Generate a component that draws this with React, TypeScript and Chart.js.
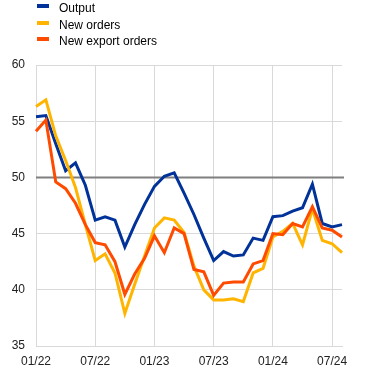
import React, { useEffect, useRef } from "react";
import { Chart, registerables } from "chart.js";

Chart.register(...registerables);

const months = [
  "01/22", "02/22", "03/22", "04/22", "05/22", "06/22", "07/22", "08/22", "09/22", "10/22", "11/22", "12/22",
  "01/23", "02/23", "03/23", "04/23", "05/23", "06/23", "07/23", "08/23", "09/23", "10/23", "11/23", "12/23",
  "01/24", "02/24", "03/24", "04/24", "05/24", "06/24", "07/24", "08/24",
];

const output = [
  55.4, 55.5, 53.0, 50.6, 51.3, 49.3, 46.2, 46.5, 46.2, 43.8, 45.8, 47.6,
  49.2, 50.1, 50.4, 48.6, 46.7, 44.6, 42.6, 43.4, 43.0, 43.1, 44.6, 44.4,
  46.5, 46.6, 47.0, 47.3, 49.4, 45.9, 45.6, 45.8,
];

const newOrders = [
  56.3, 56.9, 53.7, 51.5, 49.1, 45.8, 42.6, 43.2, 41.5, 37.9, 40.5, 43.0,
  45.5, 46.4, 46.2, 45.1, 42.1, 40.0, 39.1, 39.1, 39.2, 38.95, 41.5, 41.9,
  44.7, 45.2, 45.9, 44.0, 47.2, 44.4, 44.1, 43.3,
];

const newExportOrders = [
  54.1, 55.1, 49.6, 49.0, 47.7, 45.8, 44.2, 44.0, 42.5, 39.6, 41.4, 42.8,
  44.8, 43.3, 45.5, 45.0, 41.8, 41.6, 39.5, 40.6, 40.7, 40.7, 42.3, 42.6,
  45.0, 44.9, 45.9, 45.6, 47.4, 45.5, 45.3, 44.7,
];

const seriesNames = ["Output", "New orders", "New export orders"];
const seriesColors = ["#003299", "#FFB400", "#FF4B00"];
const referenceLevel = 50;

const FONT = "'Liberation Sans', Arial, sans-serif";

export default function App() {
  const canvasRef = useRef<HTMLCanvasElement | null>(null);

  useEffect(() => {
    document.body.style.margin = "0";
    const canvas = canvasRef.current;
    if (!canvas) return;

    const refLine = {
      id: "refLine",
      beforeDatasetsDraw(chart: any) {
        const { ctx, chartArea, scales } = chart;
        const y = scales.y.getPixelForValue(referenceLevel);
        ctx.save();
        ctx.strokeStyle = "#7f7f7f";
        ctx.lineWidth = 2;
        ctx.beginPath();
        ctx.moveTo(chartArea.left, y);
        ctx.lineTo(chartArea.right + 2, y);
        ctx.stroke();
        ctx.restore();
      },
    };

    const data = [output, newOrders, newExportOrders];
    const chart = new Chart(canvas, {
      type: "line",
      data: {
        labels: months,
        datasets: data.map((d, i) => ({
          label: seriesNames[i],
          data: d,
          borderColor: seriesColors[i],
          backgroundColor: seriesColors[i],
          borderWidth: 3,
          pointRadius: 0,
          tension: 0,
          fill: false,
          order: 2 - i,
        })),
      },
      options: {
        animation: false,
        responsive: false,
        maintainAspectRatio: false,
        layout: { padding: { top: 65, right: 30, left: 0, bottom: 0 } },
        plugins: {
          legend: { display: false },
          tooltip: { enabled: false },
        },
        scales: {
          x: {
            type: "category",
            offset: false,
            afterFit: (scale: any) => {
              scale.height = 27;
            },
            grid: {
              color: "#d9d9d9",
              lineWidth: 1,
              drawTicks: false,
            },
            border: { display: true, color: "#d9d9d9" },
            ticks: {
              autoSkip: false,
              maxRotation: 0,
              padding: 8,
              color: "#222",
              font: { family: FONT, size: 12 },
              callback: (_v: any, index: number) =>
                index % 6 === 0 ? months[index] : null,
            },
          },
          y: {
            min: 35,
            max: 60,
            afterFit: (scale: any) => {
              scale.width = 36;
            },
            grid: { color: "#d9d9d9", lineWidth: 1, drawTicks: false },
            border: { display: true, color: "#d9d9d9" },
            ticks: {
              stepSize: 5,
              padding: 11,
              color: "#222",
              font: { family: FONT, size: 12 },
            },
          },
        },
      },
      plugins: [refLine],
    });

    return () => chart.destroy();
  }, []);

  return (
    <div style={{ position: "absolute", left: 0, top: 0, width: 372, height: 373 }}>
      <canvas ref={canvasRef} width={372} height={373} style={{ display: "block" }} />
      <div
        style={{
          position: "absolute",
          left: 37,
          top: 0,
          fontFamily: FONT,
          fontSize: 12,
          color: "#000",
        }}
      >
        {seriesNames.map((name, i) => (
          <div
            key={name}
            style={{ position: "relative", height: 16.7, lineHeight: "16.7px", paddingLeft: 22 }}
          >
            <span
              style={{
                position: "absolute",
                left: 0,
                top: 4,
                width: 12,
                height: 4,
                background: seriesColors[i],
              }}
            />
            {name}
          </div>
        ))}
      </div>
    </div>
  );
}
